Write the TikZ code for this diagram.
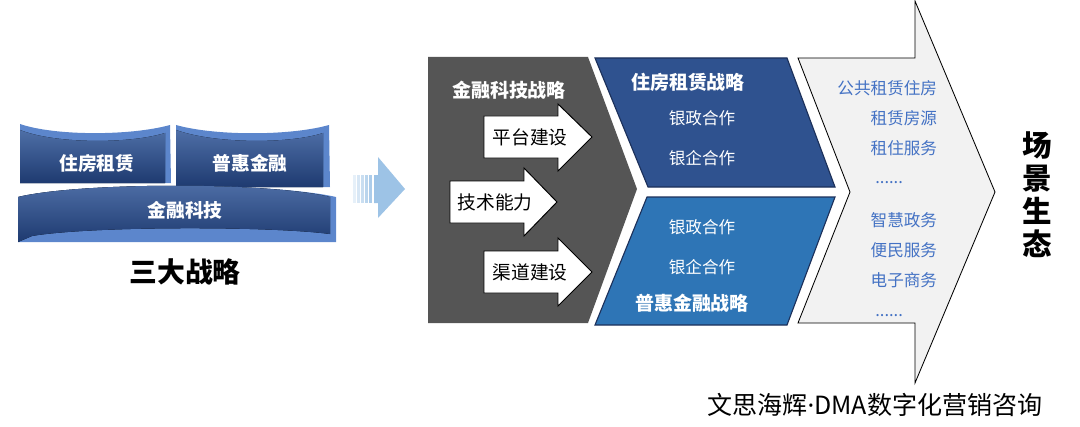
\documentclass[tikz,border=0pt]{standalone}
\usepackage{fontspec}
\setmainfont{Noto Sans CJK SC}
\newfontfamily\latinfont{Noto Sans}
\usetikzlibrary{positioning}

\definecolor{ribbonblue}{RGB}{47,85,151}
\definecolor{ribbondeep}{RGB}{30,58,112}
\definecolor{ribbonlight}{RGB}{92,134,204}
\definecolor{chevgrey}{RGB}{85,85,85}
\definecolor{housblue}{RGB}{47,82,143}
\definecolor{housline}{RGB}{28,48,90}
\definecolor{inclblue}{RGB}{46,117,182}
\definecolor{scenefill}{RGB}{242,242,242}
\definecolor{sceneblue}{RGB}{68,114,196}
\definecolor{hintblue}{RGB}{157,195,230}

\begin{document}
\begin{tikzpicture}[x=0.025cm, y=-0.025cm,
    ribbon/.style={top color=ribbonblue!85!white, bottom color=ribbondeep, draw=none},
    inner/.style={fill=ribbonlight, draw=none},
    ribbontext/.style={text=white, font=\fontsize{13.3}{14}\selectfont\bfseries},
    headtext/.style={text=white, font=\fontsize{13.5}{14}\selectfont\bfseries},
    itemtext/.style={text=white, font=\fontsize{11.8}{12}\selectfont},
    scenetext/.style={text=sceneblue, font=\fontsize{11.8}{12}\selectfont},
    armtext/.style={text=black, font=\fontsize{13.3}{14}\selectfont},
    steparrow/.style={draw=black, fill=white, line width=0.7pt, line join=miter}]

  \useasboundingbox (0,0) rectangle (1080,427);

  % Three strategies
  \fill[inner] (20,124) .. controls (55,136) and (130,136) .. (170,125) -- (171,183) -- (20,183) -- cycle;
  \fill[ribbon] (20,130) .. controls (55,144) and (130,144) .. (165,133) -- (165,183) -- (20,183) -- cycle;
  \fill[inner] (176,125) .. controls (215,136) and (290,136) .. (329,125) -- (330,187) -- (176,187) -- cycle;
  \fill[ribbon] (176,130) .. controls (215,144) and (290,144) .. (323,133) -- (323,187) -- (176,187) -- cycle;
  \fill[inner] (18,197) .. controls (80,182) and (270,182) .. (336,197) -- (336,242) -- (18,242) -- cycle;
  \fill[ribbon] (18,197) .. controls (80,182) and (270,182) .. (330,197) -- (330,234)
      .. controls (270,226) and (90,226) .. (32,236) -- (18,242) -- cycle;

  \node[ribbontext] (h) at (97,163) {住房租赁};
  \node[ribbontext] (p) at (250,163) {普惠金融};
  \node[ribbontext] (f) at (185,210) {金融科技};
  \node[font=\fontsize{19.8}{20}\selectfont\bfseries] (s) at (185,272) {三大战略};

  % Hint arrow
  \foreach \i/\o in {0/25,1/40,2/55,3/70,4/85} {
    \fill[hintblue, opacity=0.\o] (353+4*\i,175) rectangle ++(2.5,28);
  }
  \fill[hintblue] (374,175) -- (378,175) -- (378,157) -- (405,189) -- (378,218) -- (378,203) -- (374,203) -- cycle;

  % Fintech chevron
  \fill[chevgrey] (428,57) -- (588,57) -- (637,189) -- (588,323) -- (428,323) -- cycle;
  \node[headtext] (ft) at (509,90) {金融科技战略};

  \draw[steparrow] (484,116) -- (558,116) -- (558,104) -- (592,137) -- (558,171) -- (558,158) -- (484,158) -- cycle;
  \draw[steparrow] (450,181) -- (524,181) -- (524,168) -- (557,202) -- (524,236) -- (524,223) -- (450,223) -- cycle;
  \draw[steparrow] (484,251) -- (558,251) -- (558,238) -- (592,272) -- (558,306) -- (558,293) -- (484,293) -- cycle;
  \node[armtext] (a1) at (530,137) {平台建设};
  \node[armtext] (a2) at (495,202) {技术能力};
  \node[armtext] (a3) at (530,272) {渠道建设};

  % Housing and inclusive finance
  \filldraw[fill=housblue, draw=housline, line width=0.8pt] (595,58) -- (787,58) -- (835,187) -- (648,187) -- cycle;
  \filldraw[fill=inclblue, draw=housline, line width=0.8pt] (647,197) -- (835,197) -- (787,325) -- (595,325) -- cycle;
  \node[headtext] (hs) at (688,82) {住房租赁战略};
  \node[itemtext] (h1) at (702,118) {银政合作};
  \node[itemtext] (h2) at (702,158) {银企合作};
  \node[itemtext] (i1) at (702,227) {银政合作};
  \node[itemtext] (i2) at (702,267) {银企合作};
  \node[headtext] (is) at (692,303) {普惠金融战略};

  % Scene arrow
  \filldraw[fill=scenefill, draw=black, line width=0.6pt] (798,58) -- (915,58) -- (915,1) -- (995,192) -- (915,383) -- (915,323) -- (798,323) -- (850,192) -- cycle;
  \node[scenetext, anchor=east] (e1) at (942,88) {公共租赁住房};
  \node[scenetext, anchor=east] (e2) at (942,118) {租赁房源};
  \node[scenetext, anchor=east] (e3) at (942,148) {租住服务};
  \node[scenetext, anchor=west, inner sep=0pt] (e4) at (875,183) {......};
  \node[scenetext, anchor=east] (e5) at (942,220) {智慧政务};
  \node[scenetext, anchor=east] (e6) at (942,250) {便民服务};
  \node[scenetext, anchor=east] (e7) at (942,280) {电子商务};
  \node[scenetext, anchor=west, inner sep=0pt] (e8) at (875,316) {......};

  \node[align=center, font=\fontsize{21}{23.4}\selectfont\bfseries] (eco) at (1037,195) {场\\景\\生\\态};

  \node[font=\fontsize{17.8}{18}\selectfont] (src) at (875,405) {文思海辉{\latinfont ·}DMA数字化营销咨询};
\end{tikzpicture}
\end{document}
